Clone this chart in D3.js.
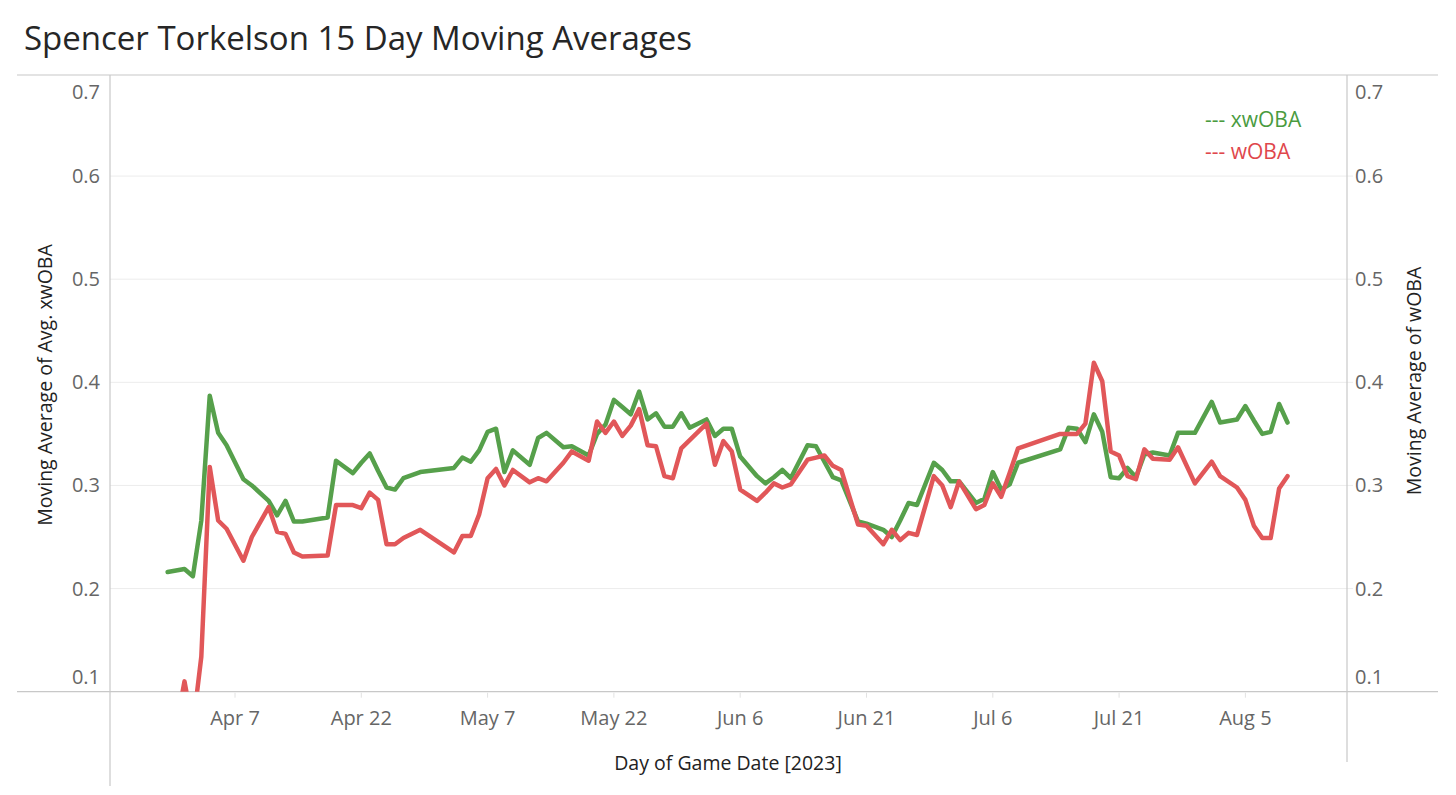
<!DOCTYPE html>
<html>
<head>
<meta charset="utf-8">
<script src="https://cdn.jsdelivr.net/npm/d3@7"></script>
<style>
  body { margin: 0; background: #fff; }
  svg { display: block; font-family: "Open Sans", sans-serif; }
</style>
</head>
<body>
<svg id="chart" width="1456" height="795"></svg>
<script>
// ---- data ----
const gameDates = [
  "2023-03-30","2023-04-01","2023-04-02","2023-04-03","2023-04-04","2023-04-05","2023-04-06",
  "2023-04-08","2023-04-09","2023-04-11","2023-04-12","2023-04-13","2023-04-14","2023-04-15",
  "2023-04-18","2023-04-19","2023-04-21","2023-04-22","2023-04-23","2023-04-24","2023-04-25",
  "2023-04-26","2023-04-27","2023-04-29","2023-05-03","2023-05-04","2023-05-05","2023-05-06",
  "2023-05-07","2023-05-08","2023-05-09","2023-05-10","2023-05-12","2023-05-13","2023-05-14",
  "2023-05-16","2023-05-17","2023-05-19","2023-05-20","2023-05-21","2023-05-22","2023-05-23",
  "2023-05-24","2023-05-25","2023-05-26","2023-05-27","2023-05-28","2023-05-29","2023-05-30",
  "2023-05-31","2023-06-02","2023-06-03","2023-06-04","2023-06-05","2023-06-06","2023-06-08",
  "2023-06-09","2023-06-10","2023-06-11","2023-06-12","2023-06-14","2023-06-15","2023-06-16",
  "2023-06-17","2023-06-18","2023-06-20","2023-06-21","2023-06-23","2023-06-24","2023-06-25",
  "2023-06-26","2023-06-27","2023-06-29","2023-06-30","2023-07-01","2023-07-02","2023-07-04",
  "2023-07-05","2023-07-06","2023-07-07","2023-07-08","2023-07-09","2023-07-14","2023-07-15",
  "2023-07-16","2023-07-17","2023-07-18","2023-07-19","2023-07-20","2023-07-21","2023-07-22",
  "2023-07-23","2023-07-24","2023-07-25","2023-07-27","2023-07-28","2023-07-30","2023-08-01",
  "2023-08-02","2023-08-04","2023-08-05","2023-08-06","2023-08-07","2023-08-08","2023-08-09",
  "2023-08-10"
];
const xwobaValues = [
  0.216,0.219,0.212,0.266,0.387,0.351,0.339,
  0.306,0.300,0.285,0.271,0.285,0.265,0.265,
  0.269,0.324,0.312,0.322,0.331,0.314,0.298,
  0.296,0.307,0.313,0.317,0.327,0.323,0.334,
  0.352,0.355,0.313,0.334,0.320,0.346,0.351,
  0.337,0.338,0.329,0.350,0.359,0.383,0.376,
  0.369,0.391,0.364,0.370,0.357,0.357,0.370,
  0.356,0.364,0.348,0.355,0.355,0.328,0.309,
  0.302,0.308,0.315,0.307,0.339,0.338,0.323,
  0.308,0.305,0.265,0.263,0.257,0.250,0.266,
  0.283,0.281,0.322,0.315,0.304,0.304,0.283,
  0.287,0.313,0.296,0.301,0.322,0.335,0.356,
  0.355,0.342,0.369,0.352,0.308,0.307,0.317,
  0.308,0.330,0.332,0.329,0.351,0.351,0.381,
  0.361,0.364,0.377,0.363,0.350,0.352,0.379,
  0.361
];
const wobaValues = [
  0.020,0.110,0.066,0.134,0.318,0.266,0.258,
  0.227,0.250,0.279,0.255,0.253,0.235,0.231,
  0.232,0.281,0.281,0.278,0.293,0.286,0.243,
  0.243,0.249,0.257,0.235,0.251,0.251,0.272,
  0.307,0.316,0.300,0.315,0.303,0.307,0.304,
  0.322,0.333,0.324,0.362,0.351,0.362,0.348,
  0.358,0.374,0.339,0.338,0.309,0.307,0.336,
  0.344,0.360,0.320,0.343,0.333,0.296,0.285,
  0.293,0.302,0.298,0.301,0.325,0.327,0.329,
  0.319,0.315,0.262,0.261,0.243,0.257,0.247,
  0.254,0.252,0.309,0.300,0.279,0.304,0.277,
  0.281,0.302,0.289,0.312,0.336,0.350,0.350,
  0.350,0.360,0.419,0.401,0.333,0.329,0.309,
  0.306,0.335,0.326,0.325,0.337,0.302,0.323,
  0.309,0.298,0.286,0.261,0.249,0.249,0.297,
  0.309
];
const yTickValues = [0.1, 0.2, 0.3, 0.4, 0.5, 0.6, 0.7];
const xTickDates = ["2023-04-07","2023-04-22","2023-05-07","2023-05-22","2023-06-06",
                    "2023-06-21","2023-07-06","2023-07-21","2023-08-05"];
const seriesNames = ["xwOBA", "wOBA"];
const seriesColors = ["#56a04b", "#e15759"];
const legendColors = ["#4a9b3f", "#e0474c"];

// ---- layout ----
const plot = { left: 110, right: 1347, top: 75, bottom: 691.7 };
const parse = d3.timeParse("%Y-%m-%d");
const dates = gameDates.map(parse);

const x = d3.scaleTime()
  .domain([parse("2023-04-07"), parse("2023-08-05")])
  .range([235, 1245.4]);
const y = d3.scaleLinear()
  .domain([0.1, 0.698])
  .range([plot.bottom, plot.top]);

const svg = d3.select("#chart");

// title
svg.append("text")
  .attr("x", 24).attr("y", 50)
  .attr("font-size", 32).attr("fill", "#262626")
  .attr("textLength", 668).attr("lengthAdjust", "spacingAndGlyphs")
  .text("Spencer Torkelson 15 Day Moving Averages");

// gridlines
svg.append("g").selectAll("line")
  .data(yTickValues.filter(v => v > 0.1 && v < 0.7))
  .join("line")
  .attr("x1", plot.left).attr("x2", plot.right + 6)
  .attr("y1", d => y(d)).attr("y2", d => y(d))
  .attr("stroke", "#ececec").attr("stroke-width", 1);

// frame lines
const frame = svg.append("g").attr("stroke", "#c8c8c8").attr("stroke-width", 1.2);
frame.append("line").attr("x1", 17).attr("x2", 1438).attr("y1", plot.top).attr("y2", plot.top);
frame.append("line").attr("x1", 17).attr("x2", 1438).attr("y1", plot.bottom).attr("y2", plot.bottom);
frame.append("line").attr("x1", plot.left).attr("x2", plot.left).attr("y1", plot.top).attr("y2", 786);
frame.append("line").attr("x1", plot.right).attr("x2", plot.right).attr("y1", plot.top).attr("y2", 762);

// x ticks
const xt = xTickDates.map(parse);
svg.append("g").selectAll("line").data(xt).join("line")
  .attr("x1", d => x(d)).attr("x2", d => x(d))
  .attr("y1", plot.bottom + 1).attr("y2", plot.bottom + 6)
  .attr("stroke", "#e2e2e2");
const fmt = d3.timeFormat("%b %-d");
svg.append("g").selectAll("text").data(xt).join("text")
  .attr("x", d => x(d)).attr("y", 725)
  .attr("text-anchor", "middle")
  .attr("font-size", 20).attr("fill", "#666")
  .text(d => fmt(d));

// y tick labels (left and right)
function labelY(v) {
  if (v >= 0.7) return 98.5;
  if (v <= 0.1) return 684;
  return y(v) + 7;
}
svg.append("g").selectAll("text").data(yTickValues).join("text")
  .attr("x", 100).attr("y", d => labelY(d))
  .attr("text-anchor", "end")
  .attr("font-size", 20).attr("fill", "#666")
  .text(d => d3.format(".1f")(d));
svg.append("g").selectAll("text").data(yTickValues).join("text")
  .attr("x", 1355).attr("y", d => labelY(d))
  .attr("text-anchor", "start")
  .attr("font-size", 20).attr("fill", "#666")
  .text(d => d3.format(".1f")(d));

// axis titles
svg.append("text")
  .attr("transform", "translate(52,385) rotate(-90)")
  .attr("text-anchor", "middle").attr("font-size", 19.5).attr("fill", "#222")
  .text("Moving Average of Avg. xwOBA");
svg.append("text")
  .attr("transform", "translate(1421,381) rotate(-90)")
  .attr("text-anchor", "middle").attr("font-size", 19.5).attr("fill", "#222")
  .text("Moving Average of wOBA");
svg.append("text")
  .attr("x", 728).attr("y", 770)
  .attr("text-anchor", "middle").attr("font-size", 19.5).attr("fill", "#222")
  .text("Day of Game Date [2023]");

// clip
svg.append("clipPath").attr("id", "plotclip")
  .append("rect")
  .attr("x", plot.left).attr("y", plot.top)
  .attr("width", plot.right - plot.left).attr("height", plot.bottom - plot.top);

const line = d3.line()
  .x(d => x(d[0]))
  .y(d => y(d[1]));

const series = [xwobaValues, wobaValues];
const lines = svg.append("g").attr("clip-path", "url(#plotclip)");
series.forEach((vals, i) => {
  lines.append("path")
    .datum(dates.map((d, j) => [d, vals[j]]))
    .attr("d", line)
    .attr("fill", "none")
    .attr("stroke", seriesColors[i])
    .attr("stroke-width", 4.5)
    .attr("stroke-linejoin", "round")
    .attr("stroke-linecap", "round");
});

// legend
svg.append("g").selectAll("text").data(seriesNames).join("text")
  .attr("x", 1205).attr("y", (d, i) => 127 + i * 31.5)
  .attr("font-size", 21)
  .attr("fill", (d, i) => legendColors[i])
  .text(d => "--- " + d);
</script>
</body>
</html>
